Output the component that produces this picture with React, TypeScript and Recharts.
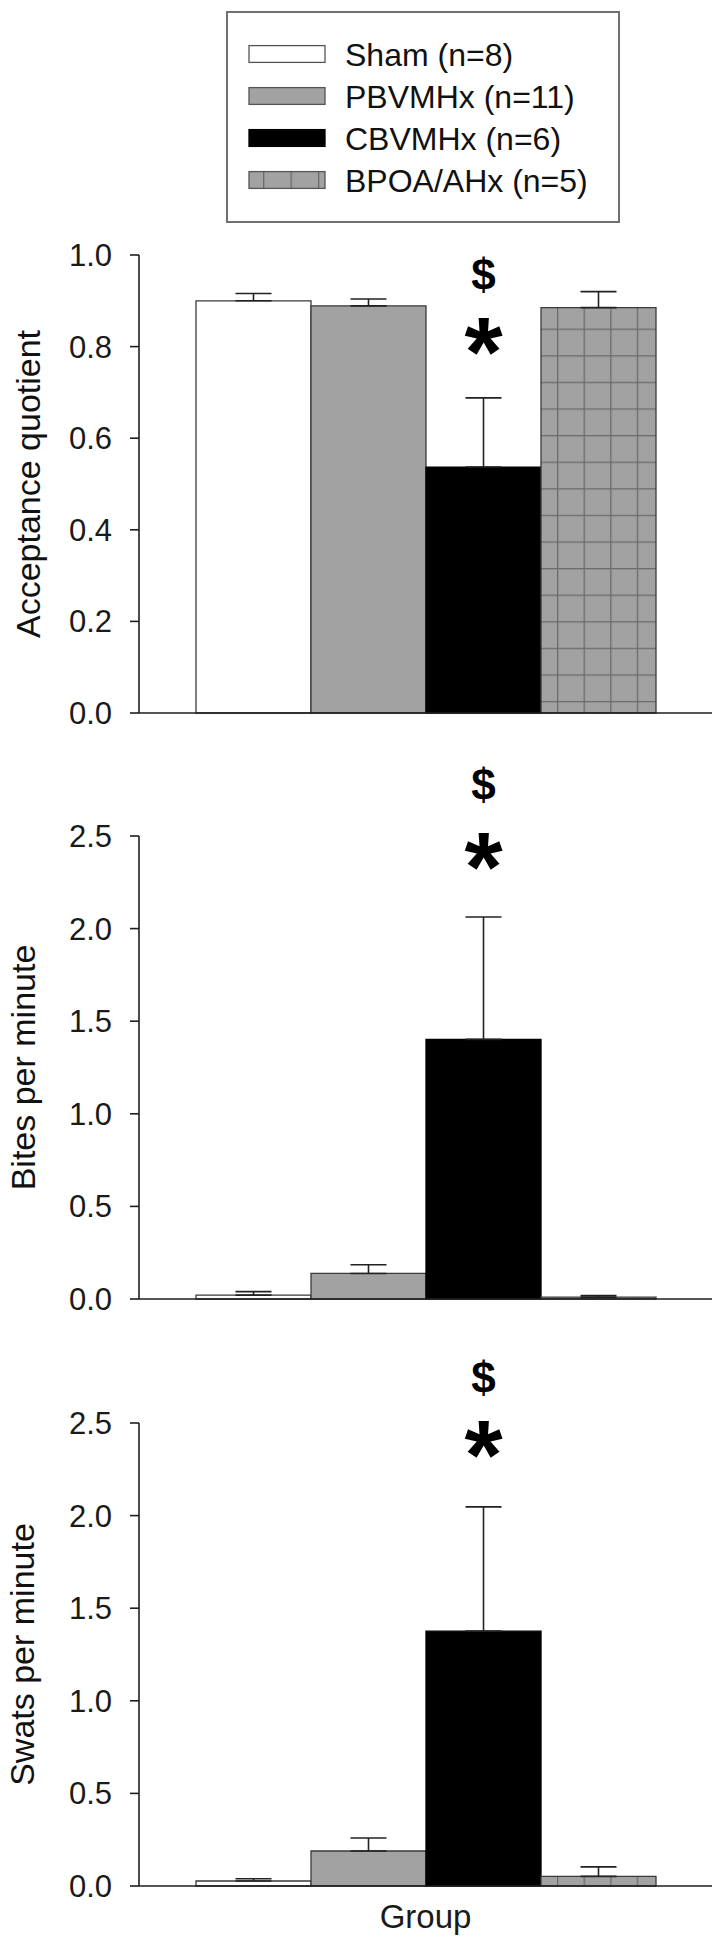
import React from 'react';
import { BarChart, Bar, XAxis, YAxis, ErrorBar, Legend, LabelList } from 'recharts';

const FONT = '"Liberation Sans", Arial, Helvetica, sans-serif';

const GROUP_NAMES = ['Sham (n=8)', 'PBVMHx (n=11)', 'CBVMHx (n=6)', 'BPOA/AHx (n=5)'];
const SERIES_KEYS = ['sham', 'pb', 'cb', 'bpoa'];

// acceptance quotient (mean, SEM)
const ACCEPT_MEAN = [0.9, 0.889, 0.537, 0.885];
const ACCEPT_SEM = [0.016, 0.015, 0.151, 0.035];
// bites per minute
const BITES_MEAN = [0.021, 0.138, 1.402, 0.01];
const BITES_SEM = [0.019, 0.047, 0.661, 0.009];
// swats per minute
const SWATS_MEAN = [0.027, 0.189, 1.376, 0.052];
const SWATS_SEM = [0.012, 0.07, 0.671, 0.051];

const ACCEPT_TICKS = [0, 0.2, 0.4, 0.6, 0.8, 1.0];
const RATE_TICKS = [0, 0.5, 1.0, 1.5, 2.0, 2.5];

// significance marks over the CBVMHx bar, in data units of each panel
const STAR_AT = [0.832, 2.44, 2.435];
const DOLLAR_AT = [0.956, 2.77, 2.74];

const GRAY = '#a2a2a2';
const GRID_LINE = '#6c6c6c';
const EDGE = '#3a3a3a';

const buildRow = (means: number[], sems: number[]) => {
  const row: any = { group: 'Group' };
  SERIES_KEYS.forEach((k, i) => {
    row[k] = means[i];
    row[k + 'Err'] = [0, sems[i]];
  });
  return [row];
};

const PANELS = [
  { top: 0, height: 750, plotTop: 255, zero: 713, max: 1.0, ticks: ACCEPT_TICKS, title: 'Acceptance quotient', titleX: 28, means: ACCEPT_MEAN, sems: ACCEPT_SEM, showGroup: false, legend: true },
  { top: 750, height: 580, plotTop: 836, zero: 1299, max: 2.5, ticks: RATE_TICKS, title: 'Bites per minute', titleX: 23, means: BITES_MEAN, sems: BITES_SEM, showGroup: false, legend: false },
  { top: 1330, height: 616, plotTop: 1423, zero: 1886, max: 2.5, ticks: RATE_TICKS, title: 'Swats per minute', titleX: 22, means: SWATS_MEAN, sems: SWATS_SEM, showGroup: true, legend: false },
];

function LegendBox() {
  const rowY = (i: number) => 43 + i * 42;
  const fills = ['#ffffff', GRAY, '#000000', 'url(#grid-legend)'];
  return (
    <svg width={394} height={212} style={{ display: 'block' }}>
      <defs>
        <pattern id="grid-legend" patternUnits="userSpaceOnUse" x={37} y={0} width={27.5} height={400}>
          <rect width={27.5} height={400} fill={GRAY} />
          <rect width={1.3} height={400} fill={GRID_LINE} />
        </pattern>
      </defs>
      <rect x={1} y={1} width={392} height={210} fill="#fff" stroke="#707070" strokeWidth={2} />
      {GROUP_NAMES.map((name, i) => (
        <g key={name}>
          <rect x={23} y={rowY(i) - 8.4} width={76} height={16.8} fill={fills[i]} stroke={i === 2 ? '#000' : '#555'} strokeWidth={1.3} />
          <text x={119} y={rowY(i) + 11.5} fontSize={32} fontFamily={FONT} fill="#111">{name}</text>
        </g>
      ))}
    </svg>
  );
}

function SigMarks(props: any, panel: number) {
  const vb = props.viewBox || props;
  const x = Number(vb.x);
  const w = Number(vb.width);
  const h = Math.abs(Number(vb.height));
  const yTop = Math.min(Number(vb.y), Number(vb.y) + Number(vb.height));
  const value = Number(props.value);
  if (!h || !value) return null;
  const perUnit = h / value;
  const zero = yTop + h;
  const cx = x + w / 2;
  const starY = zero - STAR_AT[panel] * perUnit;
  const dollarY = zero - DOLLAR_AT[panel] * perUnit;
  return (
    <g>
      <text x={cx} y={dollarY + 14.5} textAnchor="middle" fontSize={44} fontWeight="bold" fontFamily={FONT} fill="#000">$</text>
      <text x={cx} y={starY + 54} textAnchor="middle" fontSize={98} fontWeight="bold" fontFamily={FONT} fill="#000">*</text>
    </g>
  );
}

function Panel({ cfg, index }: { cfg: (typeof PANELS)[number]; index: number }) {
  const data = buildRow(cfg.means, cfg.sems);
  const xAxisHeight = cfg.showGroup ? 50 : 1;
  const zeroLocal = cfg.zero - cfg.top;
  const margin = {
    top: cfg.plotTop - cfg.top,
    right: 7,
    left: 0,
    bottom: cfg.height - zeroLocal - xAxisHeight,
  };
  const gridId = `grid-${index}`;
  const fills = ['#ffffff', GRAY, '#000000', `url(#${gridId})`];
  const titleY = cfg.plotTop - cfg.top + (cfg.zero - cfg.plotTop) / 2;
  const titleX = cfg.titleX;

  return (
    <div style={{ position: 'absolute', left: 0, top: cfg.top }}>
      <BarChart width={719} height={cfg.height} data={data} margin={margin} barCategoryGap={57} barGap={0}>
        <defs>
          <pattern id={gridId} patternUnits="userSpaceOnUse" x={557} y={zeroLocal - 12} width={26.6} height={26.6}>
            <rect width={26.6} height={26.6} fill={GRAY} />
            <rect width={1.3} height={26.6} fill={GRID_LINE} />
            <rect width={26.6} height={1.3} fill={GRID_LINE} />
          </pattern>
        </defs>
        <XAxis
          dataKey="group"
          type="category"
          height={xAxisHeight}
          axisLine={{ stroke: '#1e1e1e', strokeWidth: 1.6 }}
          tickLine={false}
          tickSize={0}
          tickMargin={19}
          tick={cfg.showGroup ? { fontSize: 33, fill: '#1a1a1a', fontFamily: FONT } : false}
        />
        <YAxis
          type="number"
          domain={[0, cfg.max]}
          ticks={cfg.ticks}
          interval={0}
          width={139}
          tickSize={9}
          tickMargin={18}
          axisLine={{ stroke: '#1e1e1e', strokeWidth: 1.6 }}
          tickLine={{ stroke: '#1e1e1e', strokeWidth: 1.6 }}
          tick={{ fontSize: 31, fill: '#1a1a1a', fontFamily: FONT }}
          tickFormatter={(v: number) => v.toFixed(1)}
          label={() => (
            <text
              x={titleX}
              y={titleY}
              transform={`rotate(-90 ${titleX} ${titleY})`}
              textAnchor="middle"
              dominantBaseline="central"
              fontSize={34}
              fontFamily={FONT}
              fill="#111"
            >
              {cfg.title}
            </text>
          )}
        />
        {cfg.legend && (
          <Legend
            layout="horizontal"
            verticalAlign="middle"
            align="center"
            wrapperStyle={{ position: 'absolute', top: 11, left: 226, width: 394, height: 212 }}
            content={() => <LegendBox />}
          />
        )}
        {SERIES_KEYS.map((k, i) => (
          <Bar
            key={k}
            dataKey={k}
            name={GROUP_NAMES[i]}
            fill={fills[i]}
            stroke={i === 2 ? '#000' : EDGE}
            strokeWidth={1.3}
            isAnimationActive={false}
          >
            <ErrorBar dataKey={k + 'Err'} direction="y" width={18} stroke="#222" strokeWidth={1.6} />
            {k === 'cb' && <LabelList dataKey="cb" content={(p: any) => SigMarks(p, index)} />}
          </Bar>
        ))}
      </BarChart>
    </div>
  );
}

export default function App() {
  return (
    <div style={{ position: 'absolute', left: 0, top: 0, width: 719, height: 1946, background: '#fff', overflow: 'hidden' }}>
      {PANELS.map((cfg, i) => (
        <Panel key={cfg.title} cfg={cfg} index={i} />
      ))}
    </div>
  );
}
